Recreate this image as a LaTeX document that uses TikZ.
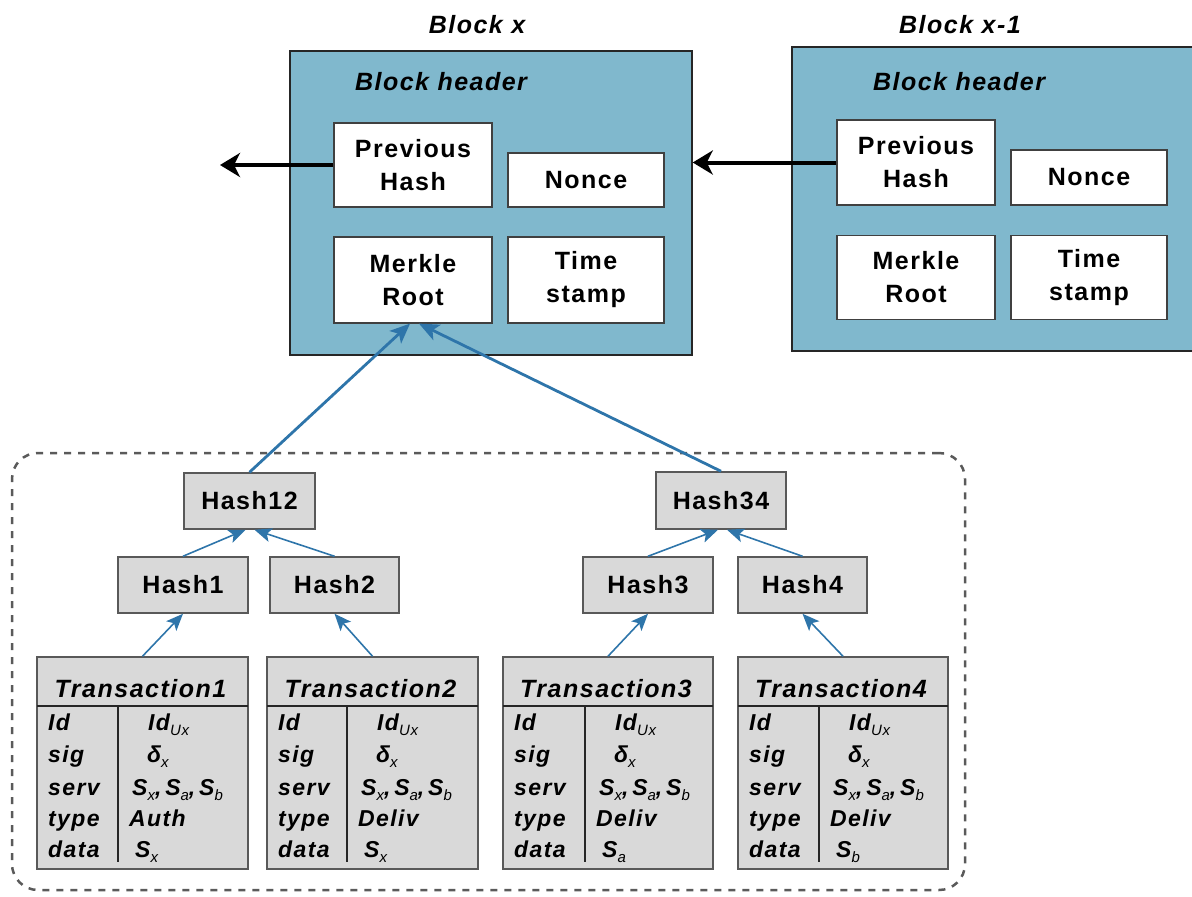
\documentclass[tikz,border=0pt]{standalone}
\usepackage{fontspec}
\setmainfont{Liberation Sans}[LetterSpace=6]
\usetikzlibrary{arrows.meta}
\definecolor{blockfill}{RGB}{128,184,205}
\definecolor{arrowblue}{RGB}{46,117,170}
\definecolor{grayfill}{RGB}{217,217,217}
\definecolor{grayborder}{RGB}{89,89,89}
\definecolor{dashgray}{RGB}{90,90,90}
\newcommand\sbs[1]{\raisebox{-5pt}{\fontsize{15}{15}\selectfont\mdseries\itshape #1}}
\newcommand\txbox[7]{%
  \node[txn, minimum width={(#3-#2)*1pt}] (#1) at ({(#2+#3)/2},763) {};
  \draw[txline] (#2,706) -- (#3,706);
  \draw[txline] (#4,706) -- (#4,862);
  \node[tt] (#1-t) at ({(#2+#3)/2-2},697) {Transaction#5};
  \node[rowt] (#1-a) at ({#2+11},730) {Id};
  \node[rowt] (#1-b) at ({#2+11},762) {sig};
  \node[rowt] (#1-c) at ({#2+11},795) {serv};
  \node[rowt] (#1-d) at ({#2+11},826) {type};
  \node[rowt] (#1-e) at ({#2+11},857) {data};
  \node[rowt] (#1-f) at ({#4+30},730) {Id\sbs{Ux}};
  \node[rowt] (#1-g) at ({#4+29},762) {δ\sbs{x}};
  \node[rowt] (#1-h) at ({#4+14},795) {S\sbs{x},\,S\sbs{a},\,S\sbs{b}};
  \node[rowt] (#1-i) at ({#4+11},826) {#6};
  \node[rowt] (#1-j) at ({#4+17},857) {S\sbs{#7}};
}
\begin{document}
\begin{tikzpicture}[x=1pt,y=-1pt,
  blk/.style={draw=black!85, line width=1.5pt, fill=blockfill, inner sep=0pt},
  wbox/.style={draw=black!75, line width=1.2pt, fill=white, align=center, inner sep=0pt,
    font=\fontsize{25}{33}\selectfont\bfseries},
  hbox/.style={draw=grayborder, line width=1.5pt, fill=grayfill, inner sep=0pt,
    font=\fontsize{25}{30}\selectfont\bfseries},
  txn/.style={draw=grayborder, line width=1.5pt, fill=grayfill, minimum height=212pt, inner sep=0pt},
  txline/.style={draw=black!85, line width=1.5pt},
  tt/.style={font=\fontsize{25}{30}\selectfont\bfseries\itshape, inner sep=0pt, anchor=base},
  rowt/.style={font=\fontsize{23}{26}\selectfont\bfseries\itshape, inner sep=0pt, anchor=base west},
  ttl/.style={font=\fontsize{25}{30}\selectfont\bfseries\itshape, inner sep=0pt, anchor=base},
  barr/.style={draw=arrowblue, line width=2.8pt, -{Stealth[length=20pt,width=17pt,inset=5pt]}},
  sarr/.style={draw=arrowblue, line width=1.6pt, -{Stealth[length=17pt,width=14pt,inset=4pt]}},
  karr/.style={draw=black, line width=4pt, -{Stealth[length=20pt,width=24pt,inset=6pt]}},
  grp/.style={draw=dashgray, line width=2.5pt, dash pattern=on 7pt off 7pt, rounded corners=26pt, inner sep=0pt}
]
\useasboundingbox (0,0) rectangle (1192,897);

% group of the Merkle tree
\node[grp, minimum width=953pt, minimum height=437pt] (grp) at (488.5,671.5) {};

% Block x
\node[ttl] (tx) at (477,33) {Block x};
\node[blk, minimum width=402pt, minimum height=304pt] (bx) at (491,203) {};
\node[ttl] (hx) at (441,90) {Block header};
\node[wbox, minimum width=158pt, minimum height=84pt] (ph) at (413,165) {Previous\\Hash};
\node[wbox, minimum width=156pt, minimum height=54pt] (nc) at (586,180) {Nonce};
\node[wbox, minimum width=158pt, minimum height=86pt] (mr) at (413,280) {Merkle\\Root};
\node[wbox, minimum width=156pt, minimum height=86pt] (ts) at (586,280) {Time\\stamp};

% Block x-1
\node[ttl] (tx1) at (960,33) {Block x-1};
\node[blk, minimum width=408pt, minimum height=304pt] (bx1) at (996,199) {};
\node[ttl] (hx1) at (959,90) {Block header};
\node[wbox, minimum width=158pt, minimum height=85pt] (ph1) at (916,162.5) {Previous\\Hash};
\node[wbox, minimum width=156pt, minimum height=55pt] (nc1) at (1089,177.5) {Nonce};
\node[wbox, minimum width=158pt, minimum height=84pt] (mr1) at (916,277.5) {Merkle\\Root};
\node[wbox, minimum width=156pt, minimum height=84pt] (ts1) at (1089,277.5) {Time\\stamp};

% previous hash links
\coordinate (out) at (220,165);
\draw[karr] (ph.west) -- (out);
\draw[karr] (ph1.west) -- (ph1.west -| bx.east);

% hash nodes
\node[hbox, minimum width=131pt, minimum height=56pt] (h12) at (249.5,501) {Hash12};
\node[hbox, minimum width=130pt, minimum height=57pt] (h34) at (721,500.5) {Hash34};
\node[hbox, minimum width=130pt, minimum height=56pt] (h1) at (183,585) {Hash1};
\node[hbox, minimum width=129pt, minimum height=56pt] (h2) at (334.5,585) {Hash2};
\node[hbox, minimum width=130pt, minimum height=56pt] (h3) at (648,585) {Hash3};
\node[hbox, minimum width=129pt, minimum height=56pt] (h4) at (802.5,585) {Hash4};

% transactions
\txbox{t1}{37}{248}{118}{1}{Auth}{x}
\txbox{t2}{267}{478}{347}{2}{Deliv}{x}
\txbox{t3}{503}{713}{585}{3}{Deliv}{a}
\txbox{t4}{738}{948}{819}{4}{Deliv}{b}

% arrows
\draw[barr] (h12.north) -- ([xshift=-3pt]mr.south);
\draw[barr] (h34.north) -- ([xshift=6pt]mr.south);
\draw[sarr] (h1.north) -- ([xshift=-4pt]h12.south);
\draw[sarr] (h2.north) -- ([xshift=5pt]h12.south);
\draw[sarr] (h3.north) -- ([xshift=-3pt]h34.south);
\draw[sarr] (h4.north) -- ([xshift=6pt]h34.south);
\draw[sarr] (t1.north) -- (h1.south);
\draw[sarr] (t2.north) -- (h2.south);
\draw[sarr] (t3.north) -- (h3.south);
\draw[sarr] (t4.north) -- (h4.south);
\end{tikzpicture}
\end{document}
